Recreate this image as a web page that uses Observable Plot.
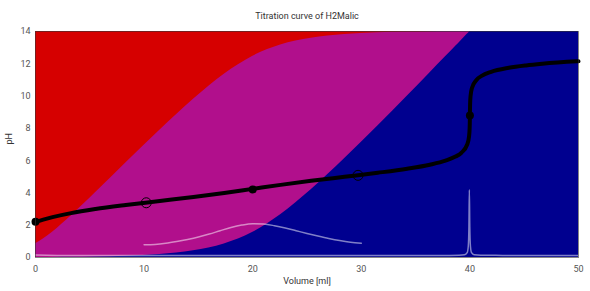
<!DOCTYPE html>
<html><head><meta charset="utf-8">
<script src="https://cdn.jsdelivr.net/npm/d3@7"></script>
<script src="https://cdn.jsdelivr.net/npm/@observablehq/plot@0.6"></script>
<style>body{margin:0;background:#fff}</style>
</head><body><div id="chart"></div>
<script>
// Titration curve samples (volume in ml, pH)
const volume = [0, 0.717, 1.565, 3.274, 5.517, 8.315, 11.445, 14.547, 17.381, 19.978, 22.568, 25.383, 28.450, 31.522, 34.226, 36.311, 37.753, 38.674, 39.233, 39.751, 39.921, 39.975, 39.994, 40.003, 40.018, 40.060, 40.190, 40.606, 41.086, 41.959, 43.575, 45.177, 46.667, 49.869, 50];
const pH = [2.21, 2.35, 2.5, 2.75, 3.0, 3.25, 3.5, 3.75, 4.0, 4.25, 4.5, 4.75, 5.0, 5.25, 5.5, 5.75, 6.0, 6.25, 6.5, 7.0, 7.5, 8.0, 8.5, 9.0, 9.5, 10.0, 10.5, 11.0, 11.25, 11.5, 11.75, 11.9, 12.0, 12.15, 12.155];
// species fractions at the same volumes
const fracHMalic = [0.0611, 0.0818, 0.1118, 0.1828, 0.2841, 0.4121, 0.5496, 0.6705, 0.7515, 0.7797, 0.7515, 0.6705, 0.5496, 0.4121, 0.2841, 0.1828, 0.1118, 0.0661, 0.0383, 0.0124, 0.0040, 0.0013, 0.0004, 0.0001, 0, 0, 0, 0, 0, 0, 0, 0, 0, 0, 0];
const fracMalic = [0.0001, 0.0001, 0.0003, 0.0008, 0.0023, 0.0058, 0.0138, 0.0300, 0.0597, 0.1101, 0.1888, 0.2995, 0.4366, 0.5821, 0.7136, 0.8164, 0.8879, 0.9338, 0.9617, 0.9876, 0.9960, 0.9987, 0.9996, 0.9999, 1, 1, 1, 1, 1, 1, 1, 1, 1, 1, 1];
// light curve between the half-equivalence points
const bellV = [10, 11, 12, 13, 14, 15, 16, 17, 18, 19, 20, 21, 22, 23, 24, 25, 26, 27, 28, 29, 30];
const bellY = [0.79, 0.81, 0.88, 0.99, 1.12, 1.27, 1.45, 1.66, 1.86, 2.01, 2.09, 2.07, 1.97, 1.83, 1.66, 1.49, 1.33, 1.18, 1.05, 0.95, 0.89];
// light derivative line along the bottom
const derivV = [0, 2, 5, 10, 15, 20, 25, 30, 35, 38, 39, 39.5, 39.75, 39.85, 39.91, 39.95, 39.99, 40.05, 40.15, 40.4, 41, 43, 46, 50];
const derivY = [0.15, 0.13, 0.12, 0.12, 0.12, 0.12, 0.12, 0.12, 0.12, 0.13, 0.14, 0.17, 0.3, 0.7, 1.9, 4.19, 1.9, 0.7, 0.3, 0.17, 0.14, 0.13, 0.12, 0.12];
// markers
const markerV = [0, 10.2, 20, 29.7, 40];
const markerPH = [2.21, 3.39, 4.22, 5.09, 8.8];
const markerFilled = [true, false, true, false, true];
const xTicks = [0, 10, 20, 30, 40, 50];
const yTicks = [0, 2, 4, 6, 8, 10, 12, 14];

const RED = "#d60000", MAG = "#b10f8c", BLUE = "#00008f";
const curve = volume.map((v, i) => ({v, pH: pH[i], a1: fracHMalic[i], a2: fracMalic[i]}));
const bell = bellV.map((v, i) => ({v, y: bellY[i]}));
const deriv = derivV.map((v, i) => ({v, y: derivY[i]}));
const markers = markerV.map((v, i) => ({v, pH: markerPH[i], filled: markerFilled[i]}));

const chart = Plot.plot({
  width: 590, height: 291,
  marginLeft: 35, marginRight: 12, marginTop: 31, marginBottom: 34,
  style: {fontFamily: "Roboto, sans-serif", fontSize: "9px", color: "#555", background: "#fff"},
  x: {domain: [0, 50], ticks: xTicks, tickSize: 0, tickPadding: 8, label: null},
  y: {domain: [0, 14], ticks: yTicks, tickSize: 0, tickPadding: 5, label: null},
  marks: [
    // overlapping layers (no seams): red full, magenta = HMalic + Malic, blue = Malic
    Plot.areaY(curve, {x: "v", y1: () => 0, y2: () => 14, fill: RED, curve: "monotone-x"}),
    Plot.areaY(curve, {x: "v", y1: () => 0, y2: d => 14 * (d.a1 + d.a2), fill: MAG, curve: "monotone-x"}),
    Plot.areaY(curve, {x: "v", y1: () => 0, y2: d => 14 * d.a2, fill: BLUE, curve: "monotone-x"}),
    Plot.line(deriv, {x: "v", y: "y", stroke: "white", strokeOpacity: 0.5, strokeWidth: 1.5, curve: "monotone-x"}),
    Plot.line(bell, {x: "v", y: "y", stroke: "white", strokeOpacity: 0.5, strokeWidth: 1.5, curve: "monotone-x"}),
    Plot.line(curve, {x: "v", y: "pH", stroke: "#000", strokeWidth: 4, curve: "monotone-x"}),
    Plot.dot(markers.filter(d => d.filled), {x: "v", y: "pH", r: 4, fill: "#000"}),
    Plot.dot(markers.filter(d => !d.filled), {x: "v", y: "pH", r: 5, stroke: "#000", strokeWidth: 1, fill: "none"}),
    Plot.frame({stroke: "#333", strokeOpacity: 0.6}),
    Plot.text(["Titration curve of H2Malic"], {frameAnchor: "top", dy: -19, fill: "#333", fontSize: 9}),
    Plot.text(["Volume [ml]"], {frameAnchor: "bottom", dy: 26, fill: "#333", fontSize: 9}),
    Plot.text(["pH"], {frameAnchor: "left", dx: -26, rotate: -90, fill: "#333", fontSize: 9})
  ]
});
document.getElementById("chart").appendChild(chart);
</script>
</body></html>
